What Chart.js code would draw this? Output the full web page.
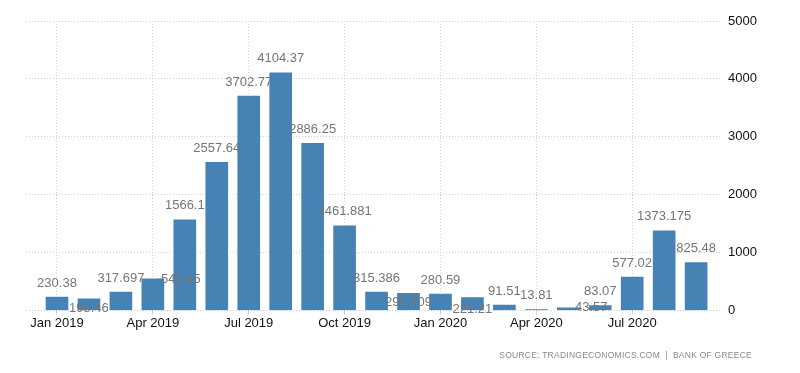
<!DOCTYPE html>
<html>
<head>
<meta charset="utf-8">
<script src="https://cdn.jsdelivr.net/npm/chart.js@4"></script>
<style>
  body { margin: 0; background: #fff; }
  #wrap { position: relative; width: 800px; height: 373px; }
  #source {
    position: absolute; right: 48px; top: 350px;
    font: 8.5px "Liberation Sans", Arial, sans-serif;
    color: #888; letter-spacing: 0.25px;
  }
</style>
</head>
<body>
<div id="wrap">
  <canvas id="barChart" width="800" height="373"></canvas>
  <div id="source">SOURCE: TRADINGECONOMICS.COM &nbsp;|&nbsp; BANK OF GREECE</div>
</div>
<script>
let months = [
    'Jan 2019', 'Feb 2019', 'Mar 2019', 'Apr 2019', 'May 2019', 'Jun 2019',
    'Jul 2019', 'Aug 2019', 'Sep 2019', 'Oct 2019', 'Nov 2019', 'Dec 2019',
    'Jan 2020', 'Feb 2020', 'Mar 2020', 'Apr 2020', 'May 2020', 'Jun 2020',
    'Jul 2020', 'Aug 2020', 'Sep 2020'
];

let values = [
    230.38, 198.46, 317.697, 543.45, 1566.1, 2557.64,
    3702.77, 4104.37, 2886.25, 1461.881, 315.386, 294.409,
    280.59, 221.21, 91.51, 13.81, 43.57, 83.07,
    577.02, 1373.175, 825.48
];

// value labels as printed on the chart
let valueText = [
    '230.38', '198.46', '317.697', '543.45', '1566.1', '2557.64',
    '3702.77', '4104.37', '2886.25', '1461.881', '315.386', '294.409',
    '280.59', '221.21', '91.51', '13.81', '43.57', '83.07',
    '577.02', '1373.175', '825.48'
];

let xTickIndex = [0, 3, 6, 9, 12, 15, 18];
let yTicks = [0, 1000, 2000, 3000, 4000, 5000];

// label nudges (dx, dy) where the original shifted overlapping labels
let labelDx = [0, 0, 0, 28, 0, 0, 0, 0, 0, 0, 0, 0, 0, 0, 0, 0, 23, 0, 0, 0, 0];
let labelDy = [0, 24, 0, 14, 0, 0, 0, 0, 0, 0, 0, 23, 0, 26, 0, 0, 14, 0, 0, 0, 0];

const barLabels = {
    id: 'barLabels',
    afterDatasetsDraw(chart) {
        const ctx = chart.ctx;
        const meta = chart.getDatasetMeta(0);
        ctx.save();
        ctx.font = '13px "Liberation Sans", Arial, sans-serif';
        ctx.fillStyle = '#757575';
        ctx.textAlign = 'center';
        ctx.textBaseline = 'middle';
        meta.data.forEach((bar, i) => {
            ctx.fillText(valueText[i], bar.x + labelDx[i], bar.y - 14 + labelDy[i]);
        });
        ctx.restore();
    }
};

const chart = new Chart(document.getElementById('barChart'), {
    type: 'bar',
    data: {
        datasets: [{
            data: values.map((v, i) => ({ x: i, y: v })),
            backgroundColor: 'rgb(70, 130, 180)',
            barThickness: 22
        }]
    },
    options: {
        responsive: false,
        animation: false,
        layout: { padding: { left: 26, top: 21, bottom: 41, right: 0 } },
        plugins: {
            legend: { display: false },
            tooltip: { enabled: false }
        },
        scales: {
            x: {
                type: 'linear',
                offset: false,
                min: -0.97,
                max: 20.81,
                afterBuildTicks: s => { s.ticks = xTickIndex.map(v => ({ value: v })); },
                ticks: {
                    callback: v => months[v],
                    color: '#111',
                    font: { family: '"Liberation Sans", Arial, sans-serif', size: 13 },
                    padding: 1,
                    maxRotation: 0,
                    autoSkip: false
                },
                grid: { color: '#d0d0d0', offset: false, tickLength: 4 },
                border: { display: false, dash: [1, 2] }
            },
            y: {
                position: 'right',
                min: 0,
                max: 5000,
                afterBuildTicks: s => { s.ticks = yTicks.map(v => ({ value: v })); },
                afterFit: s => { s.width = 78; },
                ticks: {
                    callback: v => String(v),
                    color: '#111',
                    font: { family: '"Liberation Sans", Arial, sans-serif', size: 13 },
                    padding: 6
                },
                grid: { color: '#d0d0d0', drawTicks: false },
                border: { display: false, dash: [1, 2] }
            }
        }
    },
    plugins: [barLabels]
});
</script>
</body>
</html>
